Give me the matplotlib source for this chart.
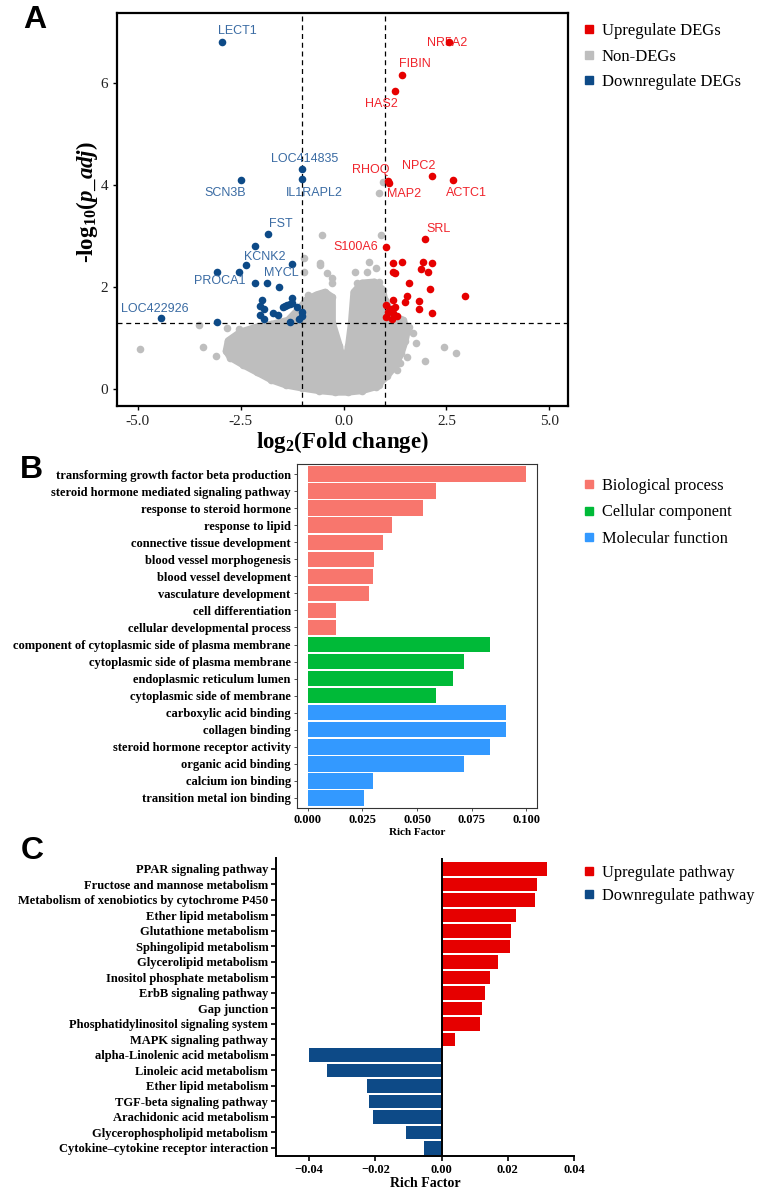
import matplotlib
matplotlib.use("Agg")
import matplotlib.pyplot as plt
import numpy as np
from matplotlib.lines import Line2D
from matplotlib.ticker import FuncFormatter

# ---------------- dados do painel A (volcano) ----------------
# nuvem densa de genes não diferenciais (contorno)
nuvem_x = [-2.75, -2.45, -2.10, -1.75, -1.40, -1.00, -0.60, -0.20, 0.10, 0.45,
           0.80, 1.05, 1.25, 1.40, 1.50, 1.55, 1.45, 1.20, 1.00, 0.95,
           0.75, 0.45, 0.25, 0.19, 0.12, 0.02, -0.10, -0.27, -0.27, -0.45,
           -0.65, -0.90, -1.05, -1.35, -1.70, -2.10, -2.50, -2.80, -2.85]
nuvem_y = [0.62, 0.48, 0.33, 0.18, 0.08, 0.02, -0.03, -0.06, -0.06, -0.03,
           0.05, 0.25, 0.45, 0.70, 0.95, 1.15, 1.35, 1.45, 1.75, 1.95,
           2.10, 2.08, 1.90, 1.30, 0.85, 0.43, 0.85, 1.30, 1.80, 1.90,
           1.85, 1.75, 1.60, 1.35, 1.28, 1.22, 1.12, 0.95, 0.75]

# genes não diferenciais isolados
nao_deg_x = [-4.95, -3.50, -3.42, -3.10, -2.84, -2.55, -2.10, -1.75, -0.53, -0.58,
             -0.39, -0.29, -0.87, -0.53, -0.95, -0.95, -0.58, -0.27, 0.92, 0.27,
             0.56, 0.80, 0.61, 0.87, 0.32, 0.95, 0.85, 2.43, 2.74, 1.99,
             1.60, 1.68, 1.77, 1.53, 1.36, 1.29, 0.87]
nao_deg_y = [0.78, 1.25, 0.82, 0.65, 1.20, 1.18, 1.20, 1.28, 3.02, 2.47,
             2.27, 2.08, 1.84, 1.71, 2.57, 2.29, 2.43, 2.18, 3.02, 2.29,
             2.29, 2.37, 2.49, 2.10, 2.08, 4.06, 3.84, 0.82, 0.71, 0.55,
             1.22, 1.10, 0.90, 0.63, 0.51, 0.37, 0.08]

# genes regulados negativamente (sem rótulo)
down_x = [-2.16, -2.55, -3.08, -1.26, -1.87, -3.08, -1.97, -2.04, -1.92, -2.04,
          -1.92, -1.72, -1.60, -1.48, -1.38, -1.24, -1.24, -1.12, -1.02, -1.07,
          -1.29, -1.43, -1.29, -1.02]
down_y = [2.80, 2.30, 2.30, 2.45, 2.08, 1.31, 1.75, 1.63, 1.57, 1.45,
          1.37, 1.49, 1.45, 1.61, 1.65, 1.78, 1.69, 1.61, 1.51, 1.37,
          1.31, 1.63, 1.67, 1.43]

# genes regulados positivamente (sem rótulo)
up_x = [1.21, 1.41, 1.19, 1.26, 1.58, 1.92, 2.16, 1.89, 2.06, 2.09,
        2.96, 1.53, 1.50, 1.84, 1.84, 2.14, 1.19, 1.04, 1.26, 1.07,
        1.19, 1.04, 1.17, 1.29, 1.12]
up_y = [2.47, 2.49, 2.29, 2.27, 2.08, 2.49, 2.47, 2.35, 2.29, 1.96,
        1.82, 1.82, 1.71, 1.73, 1.57, 1.49, 1.75, 1.65, 1.61, 1.51,
        1.49, 1.41, 1.37, 1.43, 1.57]

# genes com rótulo
rotulo_gene = ["LECT1", "SCN3B", "LOC414835", "IL1RAPL2", "FST", "KCNK2", "PROCA1",
               "MYCL", "LOC422926", "NR5A2", "FIBIN", "HAS2", "RHOQ", "MAP2",
               "NPC2", "ACTC1", "SRL", "S100A6"]
rotulo_x = [-2.94, -2.48, -1.02, -1.02, -1.84, -2.38, -2.16, -1.57, -4.42, 2.57,
            1.41, 1.26, 1.07, 1.11, 2.14, 2.67, 1.99, 1.04]
rotulo_y = [6.80, 4.10, 4.31, 4.12, 3.04, 2.43, 2.08, 2.00, 1.39, 6.80,
            6.15, 5.84, 4.08, 4.04, 4.18, 4.10, 2.94, 2.79]
rotulo_tipo = ["down"] * 9 + ["up"] * 9

# ---------------- dados do painel B (GO) ----------------
go_termos = [
    "transforming growth factor beta production",
    "steroid hormone mediated signaling pathway",
    "response to steroid hormone",
    "response to lipid",
    "connective tissue development",
    "blood vessel morphogenesis",
    "blood vessel development",
    "vasculature development",
    "cell differentiation",
    "cellular developmental process",
    "component of cytoplasmic side of plasma membrane",
    "cytoplasmic side of plasma membrane",
    "endoplasmic reticulum lumen",
    "cytoplasmic side of membrane",
    "carboxylic acid binding",
    "collagen binding",
    "steroid hormone receptor activity",
    "organic acid binding",
    "calcium ion binding",
    "transition metal ion binding",
]
go_valores = [0.100, 0.0589, 0.0526, 0.0385, 0.0346, 0.0304, 0.0297, 0.0278, 0.0130, 0.0130,
              0.0835, 0.0714, 0.0667, 0.0589, 0.0910, 0.0910, 0.0835, 0.0714, 0.0300, 0.0257]
go_categorias = ["Biological process"] * 10 + ["Cellular component"] * 4 + ["Molecular function"] * 6

# ---------------- dados do painel C (KEGG) ----------------
kegg_vias = [
    "PPAR signaling pathway",
    "Fructose and mannose metabolism",
    "Metabolism of xenobiotics by cytochrome P450",
    "Ether lipid metabolism",
    "Glutathione metabolism",
    "Sphingolipid metabolism",
    "Glycerolipid metabolism",
    "Inositol phosphate metabolism",
    "ErbB signaling pathway",
    "Gap junction",
    "Phosphatidylinositol signaling system",
    "MAPK signaling pathway",
    "alpha-Linolenic acid metabolism",
    "Linoleic acid metabolism",
    "Ether lipid metabolism",
    "TGF-beta signaling pathway",
    "Arachidonic acid metabolism",
    "Glycerophospholipid metabolism",
    "Cytokine\u2013cytokine receptor interaction",
]
kegg_valores = [0.0319, 0.0288, 0.0281, 0.0224, 0.0211, 0.0206, 0.0169, 0.0145, 0.0131, 0.0122,
                0.0115, 0.0042, -0.0401, -0.0346, -0.0225, -0.0219, -0.0206, -0.0108, -0.0052]

# cores
VERMELHO = "#E60000"
AZUL = "#0D4A87"
CINZA = "#BEBEBE"
cores_go = {"Biological process": "#F8766D",
            "Cellular component": "#00BA38",
            "Molecular function": "#3399FF"}

plt.rcParams["font.family"] = ["Liberation Serif", "DejaVu Serif"]
plt.rcParams["mathtext.fontset"] = "custom"
plt.rcParams["mathtext.rm"] = "Liberation Serif:bold"
plt.rcParams["mathtext.it"] = "Liberation Serif:italic:bold"
plt.rcParams["mathtext.bf"] = "Liberation Serif:bold"

W, H = 759, 1200


def caixa(esq, topo, dir, base):
    """converte pixels da figura em fração"""
    return [esq / W, 1 - base / H, (dir - esq) / W, (base - topo) / H]


def painel_volcano(fig):
    ax = fig.add_axes(caixa(117, 13, 568, 406))

    # nuvem de pontos cinza
    ax.fill(nuvem_x, nuvem_y, facecolor=CINZA, edgecolor=CINZA, linewidth=5,
            joinstyle="round", zorder=1)
    ax.scatter(nuvem_x, nuvem_y, s=30, color=CINZA, linewidths=0, zorder=1)
    ax.scatter(nao_deg_x, nao_deg_y, s=30, color=CINZA, linewidths=0, zorder=1)

    # linhas de corte
    for xv in (-1, 1):
        ax.axvline(xv, color="black", ls=(0, (4, 3)), lw=0.9, zorder=2)
    ax.axhline(-np.log10(0.05), color="black", ls=(0, (4, 3)), lw=0.9, zorder=2)

    ax.scatter(down_x, down_y, s=30, color=AZUL, linewidths=0, zorder=3)
    ax.scatter(up_x, up_y, s=30, color=VERMELHO, linewidths=0, zorder=3)

    cor_ponto = {"down": AZUL, "up": VERMELHO}
    cor_texto = {"down": "#3A6BA3", "up": "#F0242C"}
    # deslocamento dos rótulos em pixels
    desloc = [(15, 11), (-16, -13), (3, 10), (13, -14), (13, 10), (19, 8), (-35, 2),
              (2, 14), (-7, 9), (-2, -1), (13, 11), (-14, -13), (-17, 11), (15, -11),
              (-13, 10), (13, -13), (13, 10), (-31, 0)]
    for nome, x, y, tipo, (dx, dy) in zip(rotulo_gene, rotulo_x, rotulo_y, rotulo_tipo, desloc):
        ax.annotate(nome, (x, y), xytext=(dx, dy), textcoords="offset pixels",
                    ha="center", va="center", fontsize=9, family="Liberation Sans",
                    color=cor_texto[tipo], zorder=4)
        ax.scatter([x], [y], s=30, color=cor_ponto[tipo], linewidths=0, zorder=5)

    ax.set_xlim(-5.5, 5.45)
    ax.set_ylim(-0.33, 7.37)
    ax.set_xticks([-5, -2.5, 0, 2.5, 5])
    ax.set_yticks([0, 2, 4, 6])
    ax.xaxis.set_major_formatter(FuncFormatter(lambda v, p: f"{v:.1f}"))
    ax.yaxis.set_major_formatter(FuncFormatter(lambda v, p: f"{v:.0f}"))
    ax.tick_params(labelsize=11, length=3, width=1, colors="black", labelcolor="#222222")
    for s in ax.spines.values():
        s.set_linewidth(1.6)

    ax.set_xlabel(r"log$_{\mathrm{2}}$(Fold change)", fontsize=16.5, fontweight="bold", labelpad=1)
    ax.set_ylabel(r"-log$_{\mathrm{10}}$($p\_adj$)", fontsize=16.5, fontweight="bold")
    ax.yaxis.set_label_coords(-0.038, 0.52)

    alcas = [Line2D([], [], marker="s", ls="", color=VERMELHO, markersize=6),
             Line2D([], [], marker="s", ls="", color=CINZA, markersize=6),
             Line2D([], [], marker="s", ls="", color=AZUL, markersize=6)]
    fig.legend(alcas, ["Upregulate DEGs", "Non-DEGs", "Downregulate DEGs"],
               loc="upper left", bbox_to_anchor=(582 / W, 1 - 23 / H), frameon=False,
               fontsize=12, handlelength=0.8, handletextpad=0.4, labelspacing=0.58,
               borderpad=0, borderaxespad=0)


def painel_go(fig):
    ax = fig.add_axes(caixa(297, 464, 537, 808))
    n = len(go_termos)
    pos = np.arange(n, 0, -1)
    cores = [cores_go[c] for c in go_categorias]
    ax.barh(pos, go_valores, height=0.92, color=cores, edgecolor="none")

    ax.set_xlim(-0.005, 0.105)
    ax.set_ylim(0.4, n + 0.6)
    ax.set_yticks(pos, labels=go_termos, fontsize=9, fontweight="bold")
    ticks = [0, 0.025, 0.05, 0.075, 0.1]
    ax.set_xticks(ticks, labels=[f"{t:.3f}" for t in ticks], fontsize=9, fontweight="bold")
    ax.tick_params(length=2.5, width=0.6, colors="#333333", labelcolor="black", pad=2)
    for s in ax.spines.values():
        s.set_linewidth(0.8)
        s.set_color("#333333")
    ax.set_xlabel("Rich Factor", fontsize=8, fontweight="bold", labelpad=1)

    alcas = [Line2D([], [], marker="s", ls="", color=cores_go[c], markersize=6) for c in cores_go]
    fig.legend(alcas, list(cores_go), loc="upper left",
               bbox_to_anchor=(582 / W, 1 - 478 / H), frameon=False, fontsize=11.8,
               handlelength=0.8, handletextpad=0.4, labelspacing=0.64,
               borderpad=0, borderaxespad=0)


def painel_kegg(fig):
    ax = fig.add_axes(caixa(276, 858, 574, 1156))
    n = len(kegg_vias)
    pos = np.arange(n, 0, -1)
    cores = [VERMELHO if v > 0 else AZUL for v in kegg_valores]
    ax.barh(pos, kegg_valores, height=0.86, color=cores, edgecolor="none")
    ax.axvline(0, color="black", lw=1.4)

    ax.set_xlim(-0.05, 0.04)
    ax.set_ylim(0.48, n + 0.7)
    ax.set_yticks(pos, labels=kegg_vias, fontsize=9, fontweight="bold")
    ticks = [-0.04, -0.02, 0, 0.02, 0.04]
    ax.set_xticks(ticks, labels=[f"{t:.2f}".replace("-", "\u2212") for t in ticks],
                  fontsize=9, fontweight="bold")
    ax.tick_params(length=3.5, width=1.2, colors="black", pad=2)
    ax.spines["top"].set_visible(False)
    ax.spines["right"].set_visible(False)
    ax.spines["left"].set_linewidth(1.4)
    ax.spines["bottom"].set_linewidth(1.4)
    ax.set_xlabel("Rich Factor", fontsize=10, fontweight="bold", labelpad=1)

    alcas = [Line2D([], [], marker="s", ls="", color=VERMELHO, markersize=6),
             Line2D([], [], marker="s", ls="", color=AZUL, markersize=6)]
    fig.legend(alcas, ["Upregulate pathway", "Downregulate pathway"], loc="upper left",
               bbox_to_anchor=(582 / W, 1 - 865 / H), frameon=False, fontsize=11.8,
               handlelength=0.8, handletextpad=0.4, labelspacing=0.4,
               borderpad=0, borderaxespad=0)


fig = plt.figure(figsize=(W / 100, H / 100), dpi=100)
painel_volcano(fig)
painel_go(fig)
painel_kegg(fig)

for letra, x, y in [("A", 35, 20), ("B", 31, 470), ("C", 32, 851)]:
    fig.text(x / W, 1 - y / H, letra, fontsize=23, fontweight="bold",
             family="Liberation Sans", ha="center", va="center")

fig.savefig("out.png", dpi=100)
